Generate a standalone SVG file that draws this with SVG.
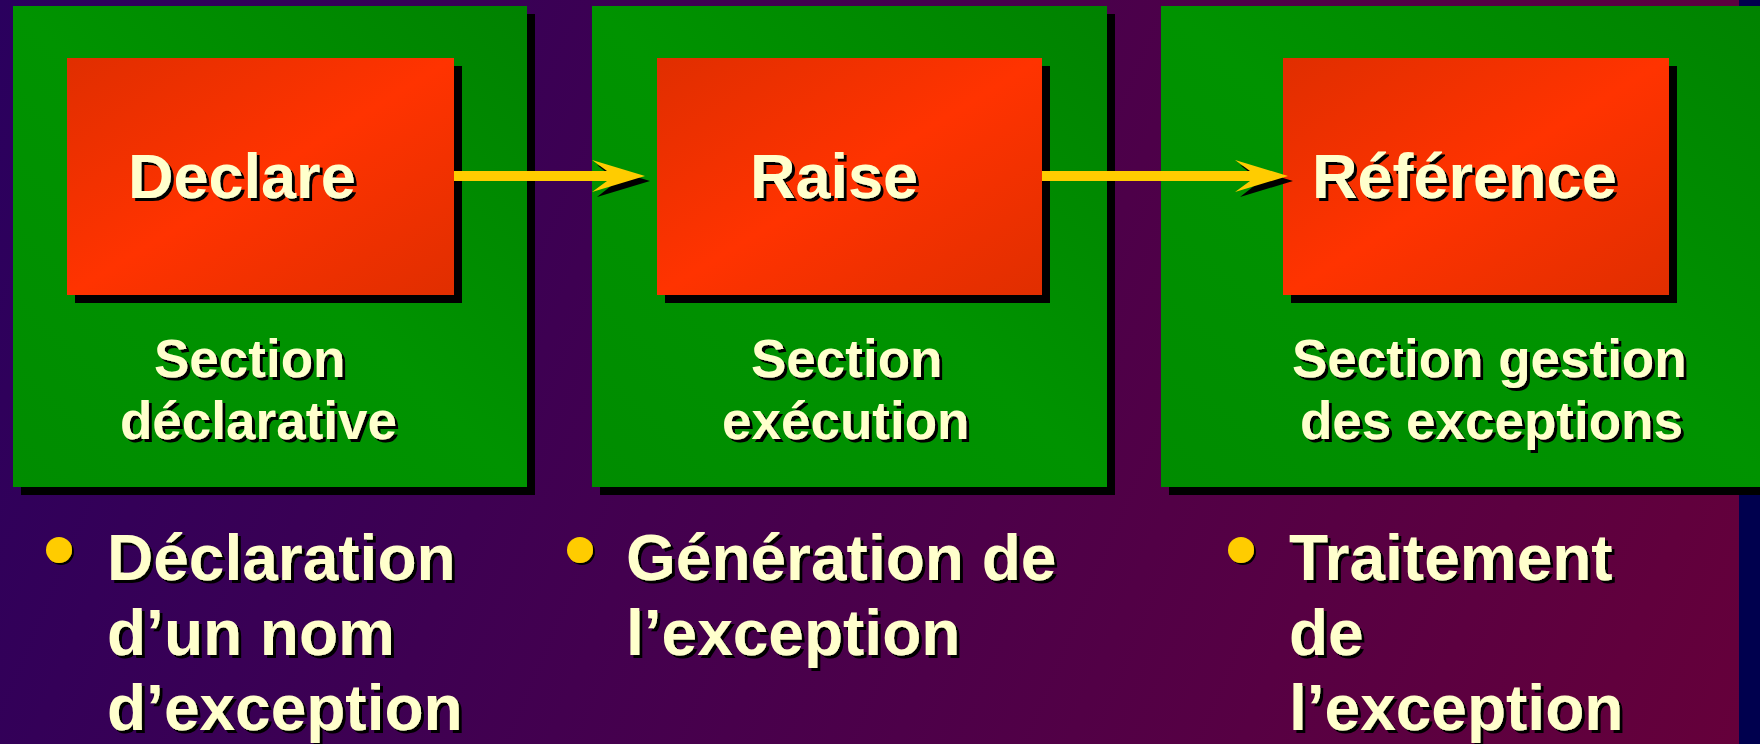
<svg xmlns="http://www.w3.org/2000/svg" width="1760" height="744" viewBox="0 0 1760 744">
  <defs>
    <linearGradient id="bg" gradientUnits="userSpaceOnUse" x1="0" y1="0" x2="1760" y2="744">
      <stop offset="0" stop-color="#2a005e"/>
      <stop offset="1" stop-color="#66003a"/>
    </linearGradient>
    <linearGradient id="greenFill" x1="1" y1="0" x2="0" y2="1">
      <stop offset="0" stop-color="#008200"/>
      <stop offset="0.5" stop-color="#009300"/>
      <stop offset="1" stop-color="#008c00"/>
    </linearGradient>
    <linearGradient id="redFill" x1="0" y1="0" x2="1" y2="1">
      <stop offset="0" stop-color="#e02e00"/>
      <stop offset="0.5" stop-color="#ff3300"/>
      <stop offset="1" stop-color="#e02e00"/>
    </linearGradient>
    <filter id="txtShadow" x="-5%" y="-20%" width="115%" height="150%">
      <feOffset in="SourceAlpha" dx="3" dy="3" result="off"/>
      <feMerge>
        <feMergeNode in="off"/>
        <feMergeNode in="SourceGraphic"/>
      </feMerge>
    </filter>
    <filter id="dotShadow" x="-50%" y="-50%" width="200%" height="200%">
      <feOffset in="SourceAlpha" dx="2" dy="2" result="off"/>
      <feMerge>
        <feMergeNode in="off"/>
        <feMergeNode in="SourceGraphic"/>
      </feMerge>
    </filter>
  </defs>
  <style>
    .shadow { fill: #000000; }
    .section { fill: url(#greenFill); }
    .block { fill: url(#redFill); }
    .title { font-family: "Liberation Sans", Arial, sans-serif; font-weight: bold; font-size: 63px; fill: #ffffcc; filter: url(#txtShadow); }
    .label { font-family: "Liberation Sans", Arial, sans-serif; font-weight: bold; font-size: 53px; fill: #ffffcc; filter: url(#txtShadow); }
    .bullet-text { font-family: "Liberation Sans", Arial, sans-serif; font-weight: bold; font-size: 64px; fill: #ffffcc; filter: url(#txtShadow); }
    .dot { fill: #ffcc00; filter: url(#dotShadow); }
    .arrow { fill: #ffcc00; }
  </style>

  <!-- slide background -->
  <rect x="0" y="0" width="1760" height="744" fill="url(#bg)"/>
  <rect x="1739" y="0" width="21" height="744" fill="#00004e"/>

  <!-- declarative section -->
  <g id="node-declare">
    <rect class="shadow" x="21" y="14" width="514" height="481"/>
    <rect class="section" x="13" y="6" width="514" height="481"/>
    <rect class="shadow" x="75" y="66" width="387" height="237"/>
    <rect class="block" x="67" y="58" width="387" height="237"/>
    <text class="title" x="128" y="198">Declare</text>
    <text class="label" x="154" y="377">Section</text>
    <text class="label" x="120" y="439">déclarative</text>
  </g>

  <!-- execution section -->
  <g id="node-raise">
    <rect class="shadow" x="600" y="14" width="515" height="481"/>
    <rect class="section" x="592" y="6" width="515" height="481"/>
    <rect class="shadow" x="665" y="66" width="385" height="237"/>
    <rect class="block" x="657" y="58" width="385" height="237"/>
    <text class="title" x="750" y="198">Raise</text>
    <text class="label" x="751" y="377">Section</text>
    <text class="label" x="722" y="439">exécution</text>
  </g>

  <!-- exception handling section -->
  <g id="node-reference">
    <rect class="shadow" x="1169" y="14" width="620" height="481"/>
    <rect class="section" x="1161" y="6" width="620" height="481"/>
    <rect class="shadow" x="1291" y="66" width="386" height="237"/>
    <rect class="block" x="1283" y="58" width="386" height="237"/>
    <text class="title" x="1312" y="198">Référence</text>
    <text class="label" x="1292" y="377">Section gestion</text>
    <text class="label" x="1300" y="439">des exceptions</text>
  </g>

  <!-- flow arrows -->
  <g id="connectors">
    <polygon class="shadow" points="611,176 597,165 650,181 597,197 611,186"/>
    <polygon class="arrow" points="454,171 607,171 592,160 645,176 592,192 607,181 454,181"/>
    <polygon class="shadow" points="1254,176 1240,165 1293,181 1240,197 1254,186"/>
    <polygon class="arrow" points="1042,171 1250,171 1235,160 1288,176 1235,192 1250,181 1042,181"/>
  </g>

  <!-- bullet notes -->
  <g id="note-declare">
    <circle class="dot" cx="59" cy="550" r="13"/>
    <text class="bullet-text" x="107" y="580">Déclaration</text>
    <text class="bullet-text" x="107" y="655">d’un nom</text>
    <text class="bullet-text" x="107" y="730">d’exception</text>
  </g>
  <g id="note-raise">
    <circle class="dot" cx="580" cy="550" r="13"/>
    <text class="bullet-text" x="626" y="580">Génération de</text>
    <text class="bullet-text" x="626" y="655">l’exception</text>
  </g>
  <g id="note-reference">
    <circle class="dot" cx="1241" cy="550" r="13"/>
    <text class="bullet-text" x="1289" y="580">Traitement</text>
    <text class="bullet-text" x="1289" y="655">de</text>
    <text class="bullet-text" x="1289" y="730">l’exception</text>
  </g>
</svg>
